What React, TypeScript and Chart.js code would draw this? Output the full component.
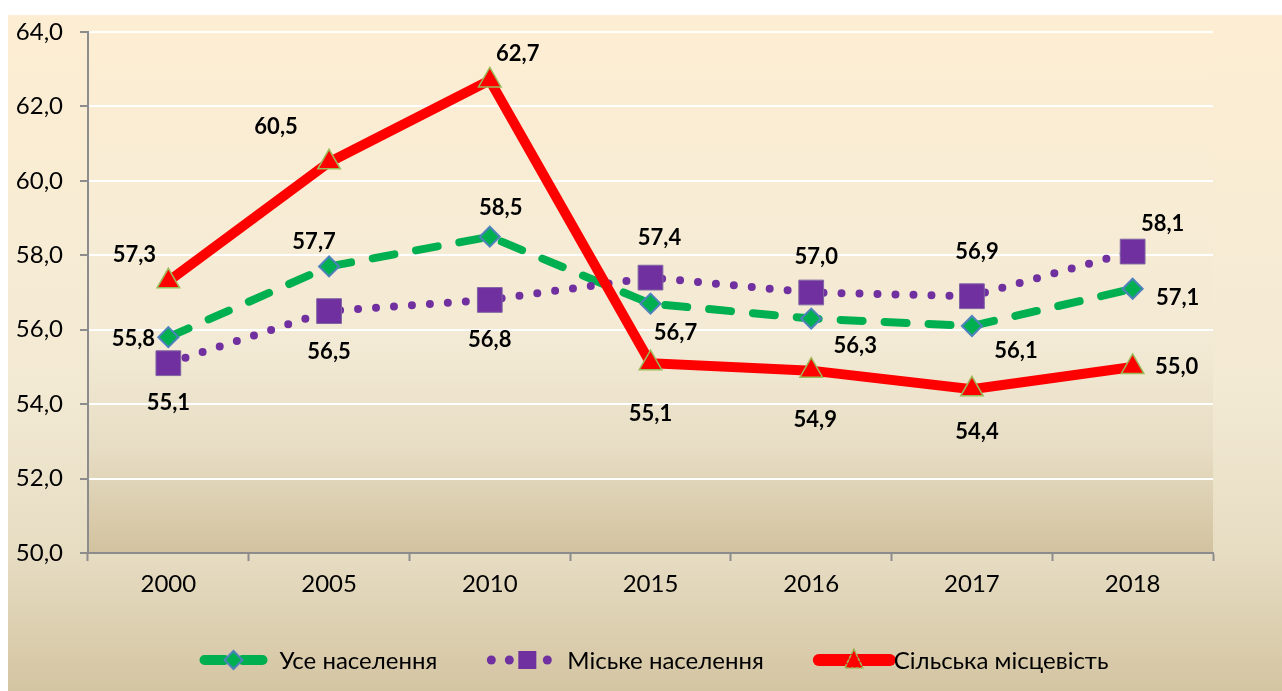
import React, { useEffect, useRef } from 'react';
import { Chart, registerables } from 'chart.js';

Chart.register(...registerables);

const categories = ['2000', '2005', '2010', '2015', '2016', '2017', '2018'];
const allPopulation = [55.8, 57.7, 58.5, 56.7, 56.3, 56.1, 57.1];
const urbanPopulation = [55.1, 56.5, 56.8, 57.4, 57.0, 56.9, 58.1];
const ruralArea = [57.3, 60.5, 62.7, 55.1, 54.9, 54.4, 55.0];
const seriesNames = ['Усе населення', 'Міське населення', 'Сільська місцевість'];
const yMin = 50;
const yMax = 64;
const yStep = 2;

const GREEN = '#00B050';
const PURPLE = '#7030A0';
const RED = '#FF0000';
const FONT = 'Lato, "Open Sans", sans-serif';

// label offsets relative to points (style only)
const labelOffsets: number[][][] = [
  [[-35, 2], [-15, -25], [11, -29], [25, 29], [44, 27], [44, 25], [45, 9]],
  [[0, 40], [0, 41], [0, 40], [9, -40], [5, -36], [5, -44], [30, -28]],
  [[-34, -26], [-53, -35], [28, -26], [0, 51], [4, 49], [5, 43], [44, 0]],
];

const fmt = (v: number) => v.toFixed(1).replace('.', ',');

const backgroundPlugin = {
  id: 'bgPlugin',
  beforeDraw(chart: any) {
    const { ctx, width, height, chartArea: a } = chart;
    ctx.save();
    const g = ctx.createLinearGradient(0, 0, 0, height);
    g.addColorStop(0, '#FDEED3');
    g.addColorStop(0.55, '#F3EAD4');
    g.addColorStop(0.8, '#E6DCC2');
    g.addColorStop(1, '#D4C5A2');
    ctx.fillStyle = g;
    ctx.fillRect(0, 0, width, height);
    const g2 = ctx.createLinearGradient(0, a.top, 0, a.bottom);
    g2.addColorStop(0, '#FDEED3');
    g2.addColorStop(0.6, '#F3EAD5');
    g2.addColorStop(0.8, '#E7DDC4');
    g2.addColorStop(1, '#D2C29F');
    ctx.fillStyle = g2;
    ctx.fillRect(a.left, a.top, a.right - a.left, a.bottom - a.top);
    ctx.restore();
  },
};

const labelsPlugin = {
  id: 'valueLabels',
  afterDatasetsDraw(chart: any) {
    const { ctx } = chart;
    ctx.save();
    ctx.font = `bold 22px ${FONT}`;
    ctx.fillStyle = '#000';
    ctx.textAlign = 'center';
    ctx.textBaseline = 'middle';
    chart.data.datasets.forEach((ds: any, i: number) => {
      const meta = chart.getDatasetMeta(i);
      meta.data.forEach((pt: any, j: number) => {
        const off = labelOffsets[i][j];
        ctx.fillText(fmt(ds.data[j]), pt.x + off[0], pt.y + off[1]);
      });
    });
    ctx.restore();
  },
};

function drawDiamond(ctx: CanvasRenderingContext2D, x: number, y: number, r: number) {
  ctx.beginPath();
  ctx.moveTo(x, y - r);
  ctx.lineTo(x + r, y);
  ctx.lineTo(x, y + r);
  ctx.lineTo(x - r, y);
  ctx.closePath();
  ctx.fillStyle = GREEN;
  ctx.fill();
  ctx.strokeStyle = '#4F81BD';
  ctx.lineWidth = 2;
  ctx.stroke();
}

const legendPlugin = {
  id: 'customLegend',
  afterDraw(chart: any) {
    const { ctx } = chart;
    ctx.save();
    ctx.font = `24px ${FONT}`;
    const symW = 68;
    const textGap = 12;
    const itemGap = 50;
    const widths = seriesNames.map((n) => ctx.measureText(n).width);
    const total = widths.reduce((s, w) => s + w + symW + textGap, 0) + itemGap * 2;
    let x = 646 - total / 2;
    const y = 645;
    seriesNames.forEach((name, i) => {
      ctx.save();
      ctx.lineCap = 'round';
      if (i === 0) {
        ctx.strokeStyle = GREEN;
        ctx.lineWidth = 10;
        ctx.beginPath();
        ctx.moveTo(x + 5, y);
        ctx.lineTo(x + 25, y);
        ctx.moveTo(x + 43, y);
        ctx.lineTo(x + 63, y);
        ctx.stroke();
        drawDiamond(ctx, x + 34, y, 9);
      } else if (i === 1) {
        ctx.fillStyle = PURPLE;
        [4, 22, 60].forEach((dx) => {
          ctx.beginPath();
          ctx.arc(x + dx, y, 4.5, 0, Math.PI * 2);
          ctx.fill();
        });
        ctx.fillRect(x + 31, y - 9, 18, 18);
      } else {
        ctx.strokeStyle = RED;
        ctx.lineWidth = 12;
        ctx.beginPath();
        ctx.moveTo(x + 5, y);
        ctx.lineTo(x + symW + 8, y);
        ctx.stroke();
        const cx = x + 40;
        ctx.beginPath();
        ctx.moveTo(cx, y - 11);
        ctx.lineTo(cx + 9, y + 8);
        ctx.lineTo(cx - 9, y + 8);
        ctx.closePath();
        ctx.fillStyle = RED;
        ctx.fill();
        ctx.strokeStyle = '#9BBB59';
        ctx.lineWidth = 1.5;
        ctx.setLineDash([3, 2]);
        ctx.stroke();
      }
      ctx.restore();
      const tx = x + symW + (i === 2 ? 12 : textGap);
      ctx.fillStyle = '#000';
      ctx.textAlign = 'left';
      ctx.textBaseline = 'middle';
      ctx.fillText(name, tx, y + 1);
      x = tx + widths[i] + itemGap;
    });
    ctx.restore();
  },
};

export default function App() {
  const ref = useRef<HTMLCanvasElement | null>(null);
  useEffect(() => {
    if (!ref.current) return;
    const chart = new Chart(ref.current, {
      type: 'line',
      data: {
        labels: categories,
        datasets: [
          {
            label: seriesNames[0],
            data: allPopulation,
            borderColor: GREEN,
            borderWidth: 8,
            borderDash: [22, 22],
            borderCapStyle: 'round',
            pointStyle: 'rectRot',
            pointRadius: 10,
            pointBackgroundColor: GREEN,
            pointBorderColor: '#4F81BD',
            pointBorderWidth: 2,
            order: 3,
            tension: 0,
          },
          {
            label: seriesNames[1],
            data: urbanPopulation,
            borderColor: PURPLE,
            borderWidth: 8,
            borderDash: [0, 18],
            borderCapStyle: 'round',
            pointStyle: 'rect',
            pointRadius: 17.5,
            pointBackgroundColor: PURPLE,
            pointBorderColor: '#8064A2',
            pointBorderWidth: 1,
            order: 2,
            tension: 0,
          },
          {
            label: seriesNames[2],
            data: ruralArea,
            borderColor: RED,
            borderWidth: 10,
            borderJoinStyle: 'miter',
            pointStyle: 'triangle',
            pointRadius: 13,
            pointBackgroundColor: RED,
            pointBorderColor: '#9BBB59',
            pointBorderWidth: 1.5,
            order: 1,
            tension: 0,
          },
        ],
      },
      options: {
        animation: false,
        responsive: false,
        maintainAspectRatio: false,
        layout: { autoPadding: false, padding: { top: 0, right: 69, bottom: 88, left: 0 } },
        plugins: {
          legend: { display: false },
          tooltip: { enabled: false },
        },
        scales: {
          x: {
            type: 'category',
            offset: true,
            grid: {
              offset: true,
              drawOnChartArea: false,
              drawTicks: true,
              tickLength: 8,
              tickColor: '#8C8C8C',
              tickWidth: 2,
            },
            border: { color: '#8C8C8C', width: 2 },
            ticks: {
              color: '#000',
              font: { family: FONT, size: 24 },
              padding: 9,
              maxRotation: 0,
            },
            afterFit: (s: any) => {
              s.height = 50;
              s.paddingLeft = 0;
              s.paddingRight = 0;
            },
          },
          y: {
            min: yMin,
            max: yMax,
            ticks: {
              stepSize: yStep,
              color: '#000',
              font: { family: FONT, size: 24 },
              padding: 17,
              callback: (v: any) => fmt(Number(v)),
            },
            grid: {
              color: '#FFFFFF',
              lineWidth: 2,
              tickColor: '#8C8C8C',
              tickLength: 8,
              tickWidth: 2,
            },
            border: { color: '#8C8C8C', width: 2 },
            afterFit: (s: any) => {
              s.width = 80;
              s.paddingTop = 17;
              s.paddingBottom = 0;
            },
          },
        },
      },
      plugins: [backgroundPlugin, labelsPlugin, legendPlugin],
    });
    return () => chart.destroy();
  }, []);
  return (
    <div style={{ position: 'fixed', left: 8, top: 15, width: 1274, height: 676 }}>
      <canvas ref={ref} width={1274} height={676} style={{ display: 'block', width: 1274, height: 676 }} />
    </div>
  );
}
